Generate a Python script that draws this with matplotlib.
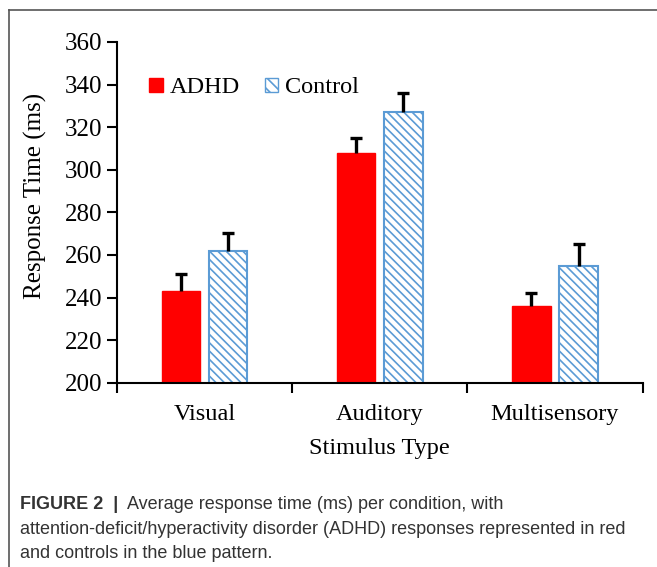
import matplotlib.pyplot as plt
import numpy as np
from matplotlib.lines import Line2D
from matplotlib.patches import Patch

# Данные
categories = ['Visual', 'Auditory', 'Multisensory']
adhd_mean = np.array([243, 308, 236])
adhd_err = np.array([8, 7, 6])
control_mean = np.array([262, 327, 255])
control_err = np.array([8.5, 9, 10])
y_ticks = [200, 220, 240, 260, 280, 300, 320, 340, 360]

plt.rcParams['hatch.linewidth'] = 1.2
serif = ['Liberation Serif', 'DejaVu Serif']
fs = 17.5

fig = plt.figure(figsize=(6.57, 5.67), dpi=100)
ax = fig.add_axes([0.178, 0.325, 0.8, 0.601])

x = np.arange(len(categories))
w = 0.22
gap = 0.05
xa = x - w / 2 - gap / 2
xc = x + w / 2 + gap / 2
ax.bar(xa, adhd_mean, w, color='#ff0000', edgecolor='#ff0000')
ax.bar(xc, control_mean, w, facecolor='white', edgecolor='#5b9bd5',
       hatch='\\\\\\\\', linewidth=1.5)

# Только верхние планки погрешностей
for xp, m, e in [(xa, adhd_mean, adhd_err), (xc, control_mean, control_err)]:
    ax.vlines(xp, m, m + e, color='black', lw=2.4)
    ax.plot(xp, m + e, ls='none', marker='_', ms=8, mew=2.4, color='black')

ax.set_xlim(-0.5, 2.5)
ax.set_ylim(200, 360)
ax.set_yticks(y_ticks)
ax.set_xticks(x)
ax.set_xticklabels(categories, fontfamily=serif, fontsize=fs)
ax.tick_params(axis='x', length=0, pad=15)
ax.set_xticks([-0.5, 0.5, 1.5, 2.5], minor=True)
ax.tick_params(axis='x', which='minor', direction='out', length=7, width=1.5)
ax.tick_params(axis='y', direction='out', length=7, width=1.5, labelsize=18)
for lab in ax.get_yticklabels():
    lab.set_fontfamily(serif)

for s in ['top', 'right']:
    ax.spines[s].set_visible(False)
for s in ['left', 'bottom']:
    ax.spines[s].set_linewidth(1.5)

ax.set_ylabel('Response Time (ms)', fontfamily=serif, fontsize=18)
ax.yaxis.set_label_coords(-0.133, 0.548)
ax.set_xlabel('Stimulus Type', fontfamily=serif, fontsize=fs, labelpad=10)

handles = [Patch(facecolor='#ff0000', edgecolor='#ff0000'),
           Patch(facecolor='white', edgecolor='#5b9bd5', hatch='\\\\\\')]
ax.legend(handles, ['ADHD', 'Control'], ncol=2, frameon=False, loc='upper left',
          bbox_to_anchor=(0.02, 0.96), prop={'family': serif, 'size': fs},
          handlelength=0.55, handleheight=0.55, handletextpad=0.3, columnspacing=1.0)

# Рамка
fig.add_artist(Line2D([0.014, 0.014], [0.0, 0.982], color='#555555', lw=1.2))
fig.add_artist(Line2D([0.014, 1.0], [0.982, 0.982], color='#555555', lw=1.2))

# Подпись
cap = dict(family=['Liberation Sans', 'DejaVu Sans'], fontsize=13, color='#333333')
t1 = fig.text(0.03, 0.102, 'FIGURE 2  |', fontweight='bold', va='baseline', **cap)
fig.canvas.draw()
ax.annotate('  Average response time (ms) per condition, with', xy=(1, 0), xycoords=t1,
            va='bottom', annotation_clip=False, **cap)
fig.text(0.03, 0.058, 'attention-deficit/hyperactivity disorder (ADHD) responses represented in red',
         va='baseline', **cap)
fig.text(0.03, 0.016, 'and controls in the blue pattern.', va='baseline', **cap)

fig.savefig('out.png', dpi=100)
